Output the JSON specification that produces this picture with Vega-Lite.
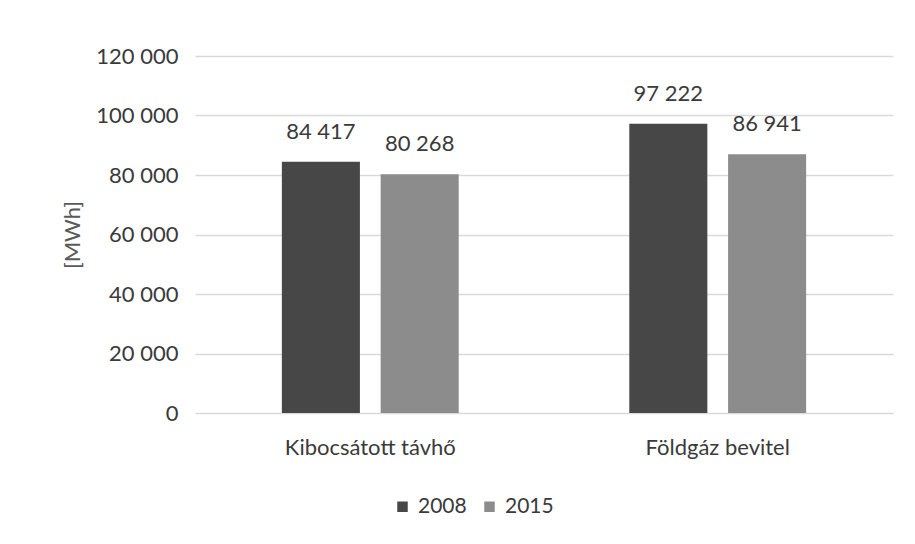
{
  "$schema": "https://vega.github.io/schema/vega-lite/v6.json",
  "autosize": {"type": "none"},
  "width": 698,
  "height": 357,
  "padding": {"left": 195, "top": 56, "right": 22, "bottom": 131},
  "background": "white",
  "config": {
    "locale": {"number": {"decimal": ",", "thousands": " ", "grouping": [3], "currency": ["", " Ft"]}},
    "font": "Lato",
    "view": {"stroke": null},
    "axis": {"labelColor": "#3a3a3a", "titleColor": "#595959", "labelFont": "Lato", "titleFont": "Lato"}
  },
  "data": {
    "values": [
      {"kategoria": "Kibocsátott távhő", "ev": "2008", "mwh": 84417},
      {"kategoria": "Kibocsátott távhő", "ev": "2015", "mwh": 80268},
      {"kategoria": "Földgáz bevitel", "ev": "2008", "mwh": 97222},
      {"kategoria": "Földgáz bevitel", "ev": "2015", "mwh": 86941}
    ]
  },
  "encoding": {
    "x": {
      "field": "kategoria", "type": "nominal", "sort": null,
      "scale": {"paddingInner": 0.491, "paddingOuter": 0.25},
      "axis": {"title": null, "labelAngle": 0, "domain": false, "ticks": false, "labelPadding": 24, "labelFontSize": 22, "grid": false}
    },
    "xOffset": {"field": "ev", "type": "nominal", "scale": {"paddingInner": 0.21, "paddingOuter": 0}},
    "y": {
      "field": "mwh", "type": "quantitative",
      "scale": {"domain": [0, 120000]},
      "axis": {"title": "[MWh]", "values": [0, 20000, 40000, 60000, 80000, 100000, 120000], "format": ",.0f", "domain": false, "ticks": false, "labelPadding": 17, "labelFontSize": 22, "titleFontSize": 22, "titleFontWeight": "normal", "titlePadding": 11, "gridColor": "#d9d9d9", "gridWidth": 1.5}
    }
  },
  "layer": [
    {
      "mark": {"type": "bar"},
      "encoding": {
        "color": {
          "field": "ev", "type": "nominal",
          "scale": {"domain": ["2008", "2015"], "range": ["#474747", "#8c8c8c"]},
          "legend": {"title": null, "orient": "none", "legendX": 197, "legendY": 440, "direction": "horizontal", "symbolType": "square", "symbolSize": 110, "labelFontSize": 21, "labelColor": "#3a3a3a", "columnPadding": 12, "labelOffset": 5}
        }
      }
    },
    {
      "mark": {"type": "text", "baseline": "bottom", "dy": -18, "fontSize": 22, "color": "#3a3a3a", "font": "Lato"},
      "encoding": {"text": {"field": "mwh", "type": "quantitative", "format": ",.0f"}}
    }
  ]
}
